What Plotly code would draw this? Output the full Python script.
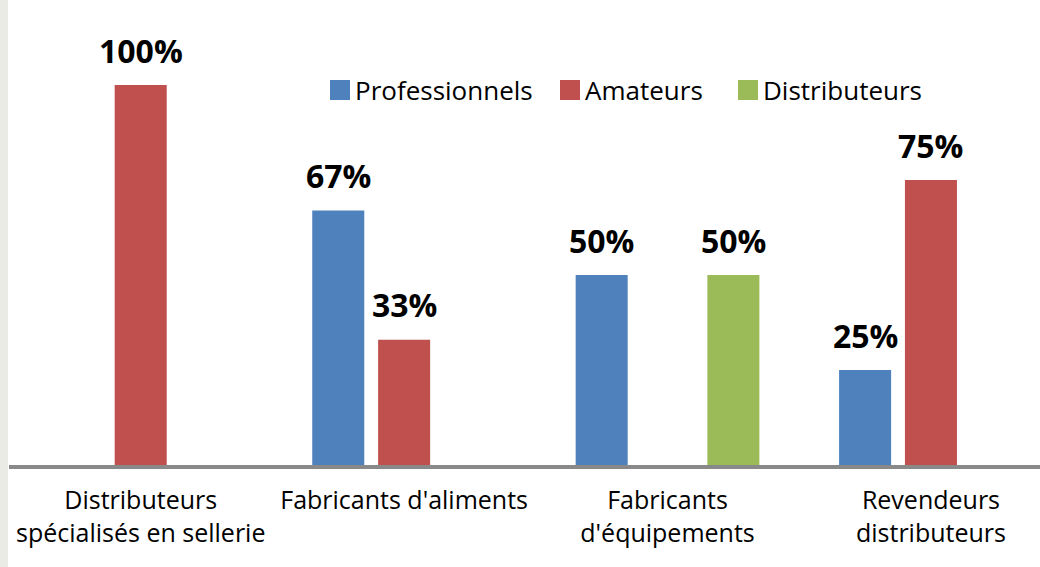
import plotly.graph_objects as go

categories = ["Distributeurs<br>spécialisés en sellerie", "Fabricants d'aliments",
              "Fabricants<br>d'équipements", "Revendeurs<br>distributeurs"]
series_names = ["Professionnels", "Amateurs", "Distributeurs"]
professionnels = [None, 67, 50, 25]
amateurs = [100, 33, None, 75]
distributeurs = [None, None, 50, None]
colors = ["#4F81BD", "#C0504D", "#9BBB59"]

values = [professionnels, amateurs, distributeurs]
FONT = "Open Sans"
W, H = 1040, 567
ML, MB = 9, 102
PW, PH = W - ML, H - MB

fig = go.Figure()
for name, vals, col in zip(series_names, values, colors):
    fig.add_trace(go.Bar(x=list(range(len(categories))), y=vals, name=name,
                         showlegend=False,
                         marker=dict(color=col, line=dict(width=0))))

# data labels
slot = 0.25
offsets = [-slot, 0, slot]
for off, vals in zip(offsets, values):
    for i, v in enumerate(vals):
        if v is None:
            continue
        fig.add_annotation(x=i + off, y=v, text=f"<b>{v}%</b>", showarrow=False,
                           yanchor="middle", yshift=35,
                           font=dict(family=FONT, size=32, color="black"))

# manual legend
legend_x = [330, 560, 738]
legend_yc = 90
for name, col, lx in zip(series_names, colors, legend_x):
    fig.add_shape(type="rect", xref="paper", yref="paper",
                  x0=(lx - ML) / PW, x1=(lx + 20 - ML) / PW,
                  y0=(H - MB - legend_yc - 10) / PH, y1=(H - MB - legend_yc + 10) / PH,
                  fillcolor=col, line=dict(width=0))
    fig.add_annotation(xref="paper", yref="paper", x=(lx + 23 - ML) / PW,
                       y=(H - MB - legend_yc) / PH, text=name, showarrow=False,
                       xanchor="left", yanchor="middle",
                       font=dict(family=FONT, size=26, color="black"))

# left grey strip
fig.add_shape(type="rect", xref="paper", yref="paper", x0=-ML / PW, x1=-1 / PW,
              y0=-0.3, y1=1.0, fillcolor="#EBEBE6", line=dict(width=0), layer="below")

fig.update_layout(
    width=W, height=H,
    margin=dict(l=ML, r=0, t=0, b=MB, autoexpand=False),
    paper_bgcolor="white", plot_bgcolor="white",
    barmode="group", bargap=0.25, bargroupgap=0.21,
    font=dict(family=FONT, size=25, color="black"),
    showlegend=False,
    xaxis=dict(range=[-0.5, 3.414], tickmode="array", tickvals=list(range(len(categories))),
               ticktext=categories, showgrid=False, zeroline=False, automargin=False,
               showline=True, linecolor="#898989", linewidth=4,
               ticks="outside", ticklen=10, tickcolor="rgba(0,0,0,0)",
               tickfont=dict(family=FONT, size=25, color="black")),
    yaxis=dict(range=[0, 122.4], visible=False, showgrid=False, zeroline=False,
               automargin=False),
)

fig.write_html("out.html", config={"displayModeBar": False},
               post_script="document.body.style.margin='0';document.body.style.overflow='hidden';")
